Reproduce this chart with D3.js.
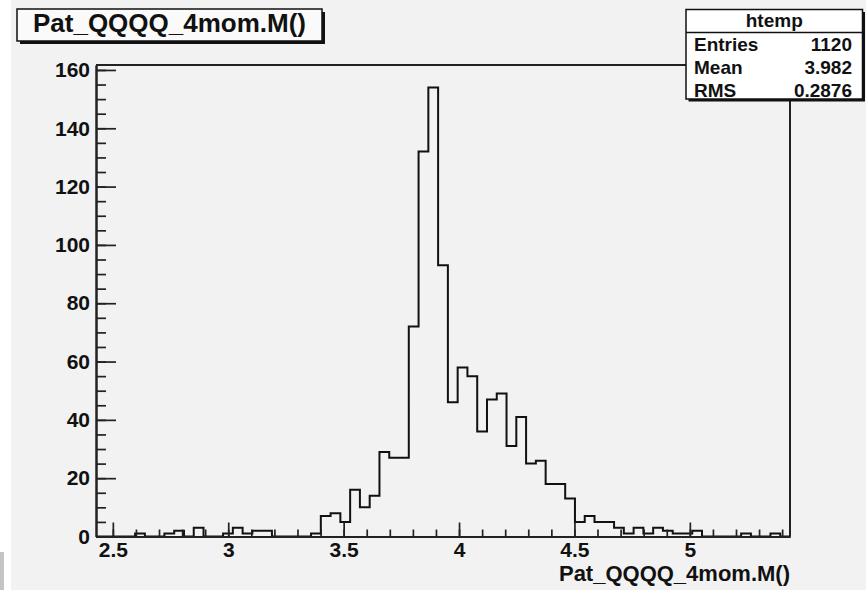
<!DOCTYPE html>
<html>
<head>
<meta charset="utf-8">
<script src="https://cdn.jsdelivr.net/npm/d3@7"></script>
<style>
  html, body { margin: 0; padding: 0; background: #ffffff; }
  svg { display: block; }
  text { font-family: "Liberation Sans", Arial, Helvetica, sans-serif; font-weight: bold; fill: #111; }
</style>
</head>
<body>
<svg id="chart" width="866" height="590"></svg>
<script>
// Histogram of Pat_QQQQ_4mom.M(): 71 equal bins spanning xRange
const xRange = [2.427, 5.434];
const counts = [
  0, 0, 0, 0, 1, 0, 0, 1, 2, 0,
  3, 0, 0, 1, 3, 1, 2, 2, 0, 0,
  0, 0, 1, 7, 8, 5, 16, 10, 14, 29,
  27, 27, 72, 132, 154, 93, 46, 58, 55, 36,
  47, 49, 31, 41, 25, 26, 18, 18, 13, 5,
  7, 5, 5, 3, 1, 3, 1, 3, 2, 1,
  1, 2, 0, 0, 0, 0, 1, 0, 0, 1,
  0
];
const xMajorTicks = [2.5, 3, 3.5, 4, 4.5, 5];
const xMinorTicks = [2.5, 2.6, 2.7, 2.8, 2.9, 3.0, 3.1, 3.2, 3.3, 3.4, 3.5, 3.6, 3.7, 3.8, 3.9,
                     4.0, 4.1, 4.2, 4.3, 4.4, 4.5, 4.6, 4.7, 4.8, 4.9, 5.0, 5.1, 5.2, 5.3, 5.4];
const yMajorTicks = [0, 20, 40, 60, 80, 100, 120, 140, 160];
const yMinorTicks = d3.range(0, 161, 5);

const titleText = "Pat_QQQQ_4mom.M()";
const xAxisTitle = "Pat_QQQQ_4mom.M()";
const statsName = "htemp";
const statsLabels = ["Entries", "Mean", "RMS"];
const statsValues = ["1120", "3.982", "0.2876"];

const svg = d3.select("#chart");

// canvas
svg.append("rect").attr("x", 11).attr("y", 0).attr("width", 855).attr("height", 590).attr("fill", "#f2f2f2");
svg.append("rect").attr("x", 0).attr("y", 552).attr("width", 4).attr("height", 38).attr("fill", "#c4c4c4");

const frame = { left: 96, right: 790, top: 65, bottom: 536.5 };
const nBins = counts.length;
const binW = (xRange[1] - xRange[0]) / nBins;
const yMax = 1.05 * d3.max(counts);

const x = d3.scaleLinear().domain(xRange).range([frame.left, frame.right]);
const y = d3.scaleLinear().domain([0, yMax]).range([frame.bottom, frame.top]);

// frame (top and right edges)
svg.append("path")
  .attr("d", `M${frame.left},${frame.top}H${frame.right}V${frame.bottom}`)
  .attr("fill", "none").attr("stroke", "#222").attr("stroke-width", 2);

// histogram outline
const pts = [[xRange[0], 0]];
counts.forEach((c, i) => pts.push([xRange[0] + i * binW, c]));
pts.push([xRange[1], 0]);
const line = d3.line().x(d => x(d[0])).y(d => y(d[1])).curve(d3.curveStepAfter);
svg.append("path").attr("d", line(pts))
  .attr("fill", "none").attr("stroke", "#111").attr("stroke-width", 2);

// x axis
const gx = svg.append("g").attr("transform", `translate(0,${frame.bottom})`);
gx.append("g").call(d3.axisBottom(x).tickValues(xMinorTicks).tickSize(-7).tickSizeOuter(0).tickFormat(""));
gx.append("g").call(d3.axisBottom(x).tickValues(xMajorTicks).tickSize(-14).tickSizeOuter(0).tickPadding(6)
  .tickFormat(d3.format("~g")));
gx.selectAll(".domain").attr("stroke", "#222").attr("stroke-width", 2);
gx.selectAll(".tick line").attr("stroke", "#222").attr("stroke-width", 1.7);
gx.selectAll("text").attr("font-size", 21).attr("fill", "#111")
  .attr("font-family", "Liberation Sans, Arial, sans-serif").attr("font-weight", "bold");

// y axis
const gy = svg.append("g").attr("transform", `translate(${frame.left},0)`);
gy.append("g").call(d3.axisLeft(y).tickValues(yMinorTicks).tickSize(-10).tickSizeOuter(0).tickFormat(""));
gy.append("g").call(d3.axisLeft(y).tickValues(yMajorTicks).tickSize(-20).tickSizeOuter(0).tickPadding(6)
  .tickFormat(d3.format("d")));
gy.selectAll(".domain").attr("stroke", "#222").attr("stroke-width", 2);
gy.selectAll(".tick line").attr("stroke", "#222").attr("stroke-width", 1.7);
gy.selectAll("text").attr("font-size", 21).attr("fill", "#111")
  .attr("font-family", "Liberation Sans, Arial, sans-serif").attr("font-weight", "bold");

// x axis title
svg.append("text").attr("x", frame.right).attr("y", 581).attr("text-anchor", "end")
  .attr("font-size", 22).text(xAxisTitle);

// title box with shadow
const tb = { x: 17, y: 9, w: 305, h: 32 };
svg.append("rect").attr("x", tb.x + 3).attr("y", tb.y + 3).attr("width", tb.w).attr("height", tb.h).attr("fill", "#111");
svg.append("rect").attr("x", tb.x).attr("y", tb.y).attr("width", tb.w).attr("height", tb.h)
  .attr("fill", "#fafafa").attr("stroke", "#111").attr("stroke-width", 1.5);
svg.append("text").attr("x", tb.x + tb.w / 2).attr("y", 32).attr("text-anchor", "middle")
  .attr("font-size", 26).text(titleText);

// statistics box
const sb = { x: 686, y: 9.5, w: 176.5, h: 89.5 };
svg.append("rect").attr("x", sb.x + 2.5).attr("y", sb.y + 2.5).attr("width", sb.w).attr("height", sb.h).attr("fill", "#111");
svg.append("rect").attr("x", sb.x).attr("y", sb.y).attr("width", sb.w).attr("height", sb.h)
  .attr("fill", "#ffffff").attr("stroke", "#111").attr("stroke-width", 1.5);
svg.append("line").attr("x1", sb.x).attr("x2", sb.x + sb.w).attr("y1", 32.5).attr("y2", 32.5)
  .attr("stroke", "#111").attr("stroke-width", 1.5);
svg.append("text").attr("x", sb.x + sb.w / 2).attr("y", 27).attr("text-anchor", "middle")
  .attr("font-size", 19).text(statsName);
statsLabels.forEach((lab, i) => {
  const by = 51 + i * 23;
  svg.append("text").attr("x", 694).attr("y", by).attr("font-size", 19).text(lab);
  svg.append("text").attr("x", 852).attr("y", by).attr("text-anchor", "end").attr("font-size", 19).text(statsValues[i]);
});
</script>
</body>
</html>
